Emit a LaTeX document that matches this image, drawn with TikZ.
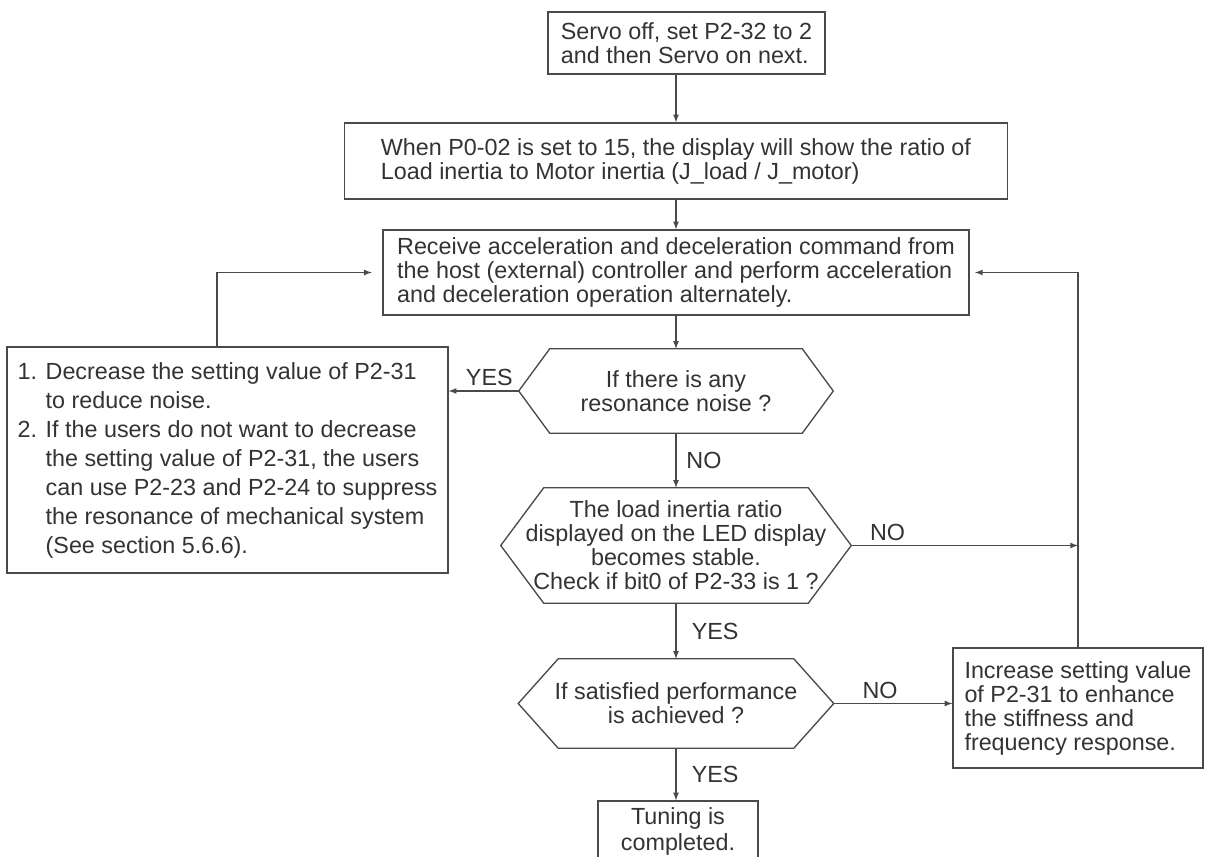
\documentclass[tikz,border=0pt]{standalone}
\usepackage{fontspec}
\setmainfont{Liberation Sans}
\usepackage{tikz}
\usepackage{xcolor}
\usetikzlibrary{shapes,arrows,positioning,calc}

\definecolor{linegray}{HTML}{4A4A4A}
\definecolor{textgray}{HTML}{333333}

% hexagon outline round a plain decision node
\newcommand{\hexframe}[2]{%
  \draw[frame] (#1.west) -- ($(#1.north west)+(#2,0)$) -- ($(#1.north east)+(-#2,0)$)
    -- (#1.east) -- ($(#1.south east)+(-#2,0)$) -- ($(#1.south west)+(#2,0)$) -- cycle;}

\begin{document}
\begin{tikzpicture}[
    x=0.75pt, y=-0.75pt,
    >=latex,
    frame/.style={draw=linegray, line width=1pt},
    box/.style={rectangle, frame, fill=white, text=textgray, align=left, inner sep=0pt, font=\fontsize{17.5}{18}\selectfont},
    decision/.style={rectangle, text=textgray, align=center, inner sep=0pt, font=\fontsize{17.5}{18}\selectfont},
    arrow/.style={->, draw=linegray, line width=1pt},
    lbl/.style={text=textgray, font=\fontsize{17.5}{18}\selectfont}
]
    \useasboundingbox[fill=white] (0,0) rectangle (1207,857);
    \clip (0,0) rectangle (1207,857);

    \node[box, minimum width=207.75pt, minimum height=46.5pt] (servo) at (686.5,43) {Servo off, set P2-32 to 2\\and then Servo on next.};
    \node[box, minimum width=497.25pt, minimum height=57pt] (ratio) at (676,161) {When P0-02 is set to 15, the display will show the ratio of\\Load inertia to Motor inertia (J\_load / J\_motor)};
    \node[box, minimum width=439.5pt, minimum height=63.75pt] (command) at (676,272.5) {Receive acceleration and deceleration command from\\the host (external) controller and perform acceleration\\and deceleration operation alternately.};
    \node[decision, minimum width=235.5pt, minimum height=63pt] (noise) at (676,391) {If there is any\\resonance noise ?};
    \node[box, minimum width=330.75pt, minimum height=169.5pt, font=\fontsize{17.5}{21.75}\selectfont] (reduce) at (227.5,460) {1. Decrease the setting value of P2-31\\\hphantom{1. }to reduce noise.\\2. If the users do not want to decrease\\\hphantom{2. }the setting value of P2-31, the users\\\hphantom{2. }can use P2-23 and P2-24 to suppress\\\hphantom{2. }the resonance of mechanical system\\\hphantom{2. }(See section 5.6.6).};
    \node[decision, minimum width=262.5pt, minimum height=86.25pt] (stable) at (676,545.5) {The load inertia ratio\\displayed on the LED display\\becomes stable.\\Check if bit0 of P2-33 is 1 ?};
    \node[decision, minimum width=236.25pt, minimum height=66.75pt] (perform) at (676,703.5) {If satisfied performance\\is achieved ?};
    \node[box, minimum width=187.5pt, minimum height=90pt] (stiff) at (1078,708) {Increase setting value\\of P2-31 to enhance\\the stiffness and\\frequency response.};
    \node[box, align=center, minimum width=120pt, minimum height=45.75pt, font=\fontsize{17.5}{20}\selectfont] (done) at (678,831.5) {Tuning is\\completed.};

    \hexframe{noise}{31}
    \hexframe{stable}{43}
    \hexframe{perform}{40}

    \draw[arrow] (servo.south -| ratio.north) -- (ratio.north);
    \draw[arrow] (ratio) -- (command);
    \draw[arrow] (command) -- (noise);
    \draw[arrow] (noise.west) -- node[lbl, above, pos=0.42] {YES} (noise.west -| reduce.east);
    \draw[arrow] (noise) -- node[lbl, right, xshift=4pt] {NO} (stable);
    \draw[arrow] (stable) -- node[lbl, right, xshift=8pt] {YES} (perform);
    \draw[arrow] (perform) -- node[lbl, right, xshift=8pt] {YES} (perform.south |- done.north);
    \draw[arrow] (perform.east) -- node[lbl, above, pos=0.39] {NO} (perform.east -| stiff.west);
    \coordinate (loop) at (stiff.north |- stable.east);
    \draw[arrow] (stable.east) -- node[lbl, above, pos=0.16] {NO} (loop);
    \draw[arrow, shorten >=4pt] (stiff.north) |- (command.east);
    \draw[arrow, shorten >=8pt] ([xshift=-8pt]reduce.north) |- (command.west);
\end{tikzpicture}
\end{document}
